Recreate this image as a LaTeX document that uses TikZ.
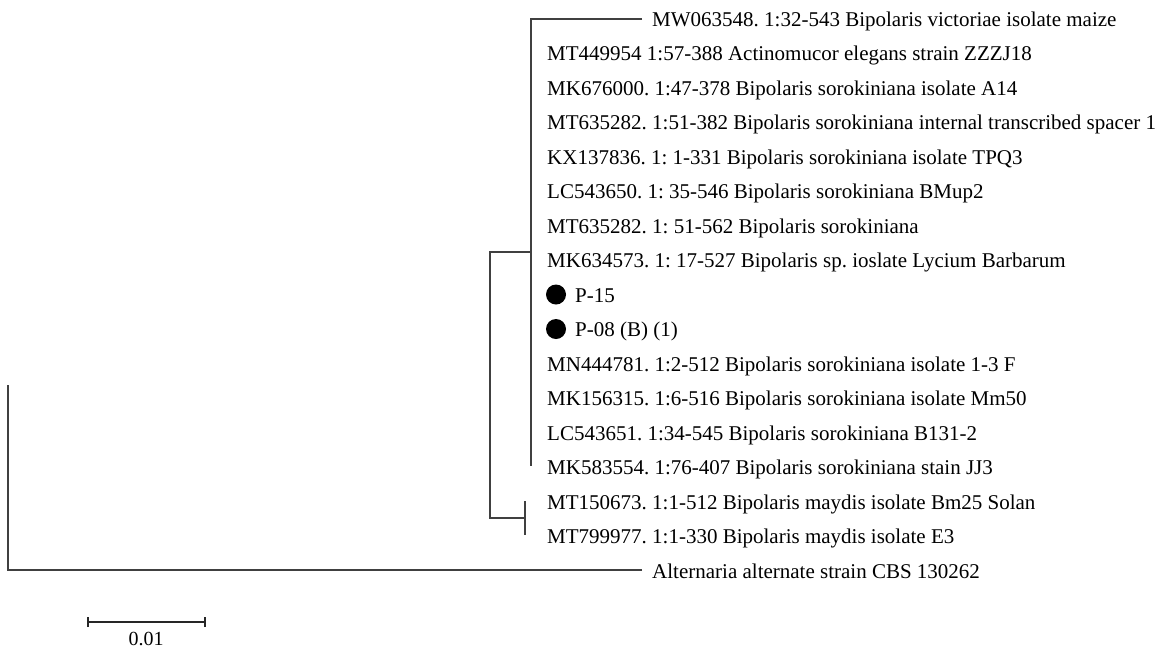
\documentclass[tikz,border=0pt]{standalone}
\usepackage{fontspec}
\setmainfont{Liberation Serif}
\begin{document}
\frenchspacing
\begin{tikzpicture}[x=1pt,y=-1pt,
  br/.style={line width=1.4pt, draw=black!75},
  lf/.style={anchor=base west, inner sep=0pt, font=\fontsize{21}{21}\selectfont},
  dot/.style={circle, fill=black, minimum size=20pt, inner sep=0pt}]
\useasboundingbox (0,0) rectangle (1168,649);
% internal nodes
\coordinate (root) at (8,385);
\coordinate (rootb) at (8,570);
\coordinate (ingT) at (490,252);
\coordinate (ingB) at (490,518);
\coordinate (cAtop) at (531,19);
\coordinate (cAmid) at (531,252);
\coordinate (cAbot) at (531,466);
\coordinate (cBmid) at (525,518);
\coordinate (cBtop) at (525,501);
\coordinate (cBbot) at (525,535);
\coordinate (tipMW) at (642,19);
\coordinate (tipAlt) at (642,570);
% leaves
\node[lf] (l0) at (652,26) {MW063548. 1:32-543 Bipolaris victoriae isolate maize};
\node[lf] (l1) at (547,60.5) {MT449954 1:57-388 Actinomucor elegans strain ZZZJ18};
\node[lf] (l2) at (547,95) {MK676000. 1:47-378 Bipolaris sorokiniana isolate A14};
\node[lf] (l3) at (547,129.5) {MT635282. 1:51-382 Bipolaris sorokiniana internal transcribed spacer 1};
\node[lf] (l4) at (547,164) {KX137836. 1: 1-331 Bipolaris sorokiniana isolate TPQ3};
\node[lf] (l5) at (547,198.5) {LC543650. 1: 35-546 Bipolaris sorokiniana BMup2};
\node[lf] (l6) at (547,233) {MT635282. 1: 51-562 Bipolaris sorokiniana};
\node[lf] (l7) at (547,267.5) {MK634573. 1: 17-527 Bipolaris sp. ioslate Lycium Barbarum};
\node[dot] (d8) at (556,294.5) {};
\node[lf] (l8) at (575,302) {P-15};
\node[dot] (d9) at (556,329) {};
\node[lf] (l9) at (575,336.5) {P-08 (B) (1)};
\node[lf] (l10) at (547,371) {MN444781. 1:2-512 Bipolaris sorokiniana isolate 1-3 F};
\node[lf] (l11) at (547,405.5) {MK156315. 1:6-516 Bipolaris sorokiniana isolate Mm50};
\node[lf] (l12) at (547,440) {LC543651. 1:34-545 Bipolaris sorokiniana B131-2};
\node[lf] (l13) at (547,474.5) {MK583554. 1:76-407 Bipolaris sorokiniana stain JJ3};
\node[lf] (l14) at (547,509) {MT150673. 1:1-512 Bipolaris maydis isolate Bm25 Solan};
\node[lf] (l15) at (547,543.5) {MT799977. 1:1-330 Bipolaris maydis isolate E3};
\node[lf] (l16) at (652,578) {Alternaria alternate strain CBS 130262};
% branches
\draw[br] (tipAlt) -- (rootb) -- (root);
\draw[br] (cBmid) -- (ingB) -- (ingT) -- (cAmid);
\draw[br] (tipMW) -- (cAtop) -- (cAbot);
\draw[br] (cBtop) -- (cBbot);
% scale bar
\coordinate (sbL) at (88,622);
\coordinate (sbR) at (205,622);
\draw[br, line width=1.2pt, draw=black!85] (sbL) -- (sbR);
\draw[br, line width=1.2pt, draw=black!85] ([yshift=-5pt]sbL) -- ([yshift=5pt]sbL);
\draw[br, line width=1.2pt, draw=black!85] ([yshift=-5pt]sbR) -- ([yshift=5pt]sbR);
\node[anchor=base, inner sep=0pt, font=\fontsize{20}{20}\selectfont] (sblab) at (146,645) {0.01};
\end{tikzpicture}
\end{document}
